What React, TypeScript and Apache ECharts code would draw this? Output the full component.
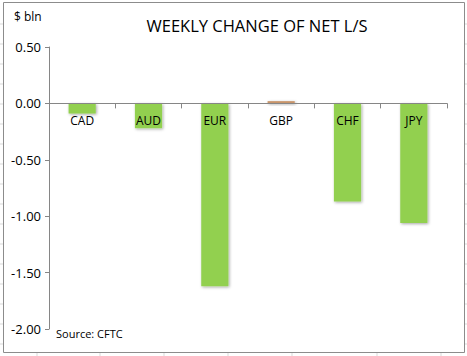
import React, { useEffect, useRef } from "react";
import * as echarts from "echarts";

const categories = ["CAD", "AUD", "EUR", "GBP", "CHF", "JPY"];
const values = [-0.09, -0.22, -1.62, 0.02, -0.87, -1.06];
const barColors = ["#92D050", "#92D050", "#92D050", "#C8956B", "#92D050", "#92D050"];
const yTicks = { min: -2, max: 0.5, interval: 0.5 };
const titleText = "WEEKLY CHANGE OF NET L/S";
const unitText = "$ bln";
const sourceText = "Source: CFTC";
const sheetColX = [37, 100, 164, 228, 292, 377, 441];
const sheetRowY = [24, 44, 64, 84, 104, 124, 144, 164, 184, 204, 224, 244, 264, 284, 304, 324, 344];

export default function App() {
  const ref = useRef<HTMLDivElement>(null);
  useEffect(() => {
    if (!ref.current) return;
    const chart = echarts.init(ref.current, undefined, { renderer: "svg" });
    const font = "'Open Sans', 'Noto Sans', sans-serif";
    const gridTop = 47;
    const gridBottom = 27;
    const gridHeight = 356 - gridTop - gridBottom;
    // distance from bottom of grid to the zero line, derived from the axis range
    const zeroFromBottom = ((0 - yTicks.min) / (yTicks.max - yTicks.min)) * gridHeight;
    const graphics: any[] = [];
    sheetColX.forEach((x) =>
      graphics.push({ type: "line", shape: { x1: x, y1: 353, x2: x, y2: 356 }, style: { stroke: "#D9D9D9", lineWidth: 1 } })
    );
    sheetRowY.forEach((y) => {
      graphics.push({ type: "line", shape: { x1: 0, y1: y, x2: 3, y2: y }, style: { stroke: "#D9D9D9", lineWidth: 1 } });
      graphics.push({ type: "line", shape: { x1: 465, y1: y, x2: 467, y2: y }, style: { stroke: "#D9D9D9", lineWidth: 1 } });
    });
    graphics.push({
      type: "rect",
      shape: { x: 3.5, y: 2.5, width: 461, height: 350 },
      style: { fill: "#ffffff", stroke: "#8C8C8C", lineWidth: 1 },
      z: -10,
    });
    graphics.push({
      type: "text",
      x: 14,
      y: 10,
      style: { text: unitText, font: `12px ${font}`, fill: "#000" },
    });
    graphics.push({
      type: "text",
      x: 56,
      y: 328,
      style: { text: sourceText, font: `11px ${font}`, fill: "#000" },
    });
    chart.setOption({
      animation: false,
      backgroundColor: "#ffffff",
      title: {
        text: titleText,
        left: 252,
        textAlign: "center",
        top: 12,
        textStyle: { fontFamily: font, fontSize: 16.5, fontWeight: "normal", color: "#000" },
      },
      graphic: graphics,
      grid: { left: 49, right: 20, top: gridTop, bottom: gridBottom },
      xAxis: {
        type: "category",
        data: categories,
        offset: -zeroFromBottom,
        axisLine: { onZero: false, lineStyle: { color: "#868686" } },
        axisTick: { show: true, length: 5, lineStyle: { color: "#868686" } },
        axisLabel: { color: "#000", fontSize: 12, fontFamily: font, margin: 11 },
        splitLine: { show: false },
        z: 5,
      },
      yAxis: {
        type: "value",
        min: yTicks.min,
        max: yTicks.max,
        interval: yTicks.interval,
        axisLine: { show: true, lineStyle: { color: "#868686" } },
        axisTick: { show: true, length: 4, lineStyle: { color: "#868686" } },
        axisLabel: {
          color: "#000",
          fontSize: 13,
          fontFamily: font,
          margin: 8,
          formatter: (v: number) => v.toFixed(2),
        },
        splitLine: { show: false },
      },
      series: [
        {
          type: "bar",
          barCategoryGap: "59%",
          z: 2,
          data: values.map((v, i) => ({
            value: v,
            itemStyle: {
              color: barColors[i],
              shadowColor: "rgba(0,0,0,0.35)",
              shadowBlur: 3,
              shadowOffsetX: 1,
              shadowOffsetY: 1,
            },
          })),
        },
      ],
    });
    return () => chart.dispose();
  }, []);
  return (
    <div
      ref={ref}
      style={{ position: "fixed", left: 0, top: 0, width: 467, height: 356 }}
    />
  );
}
